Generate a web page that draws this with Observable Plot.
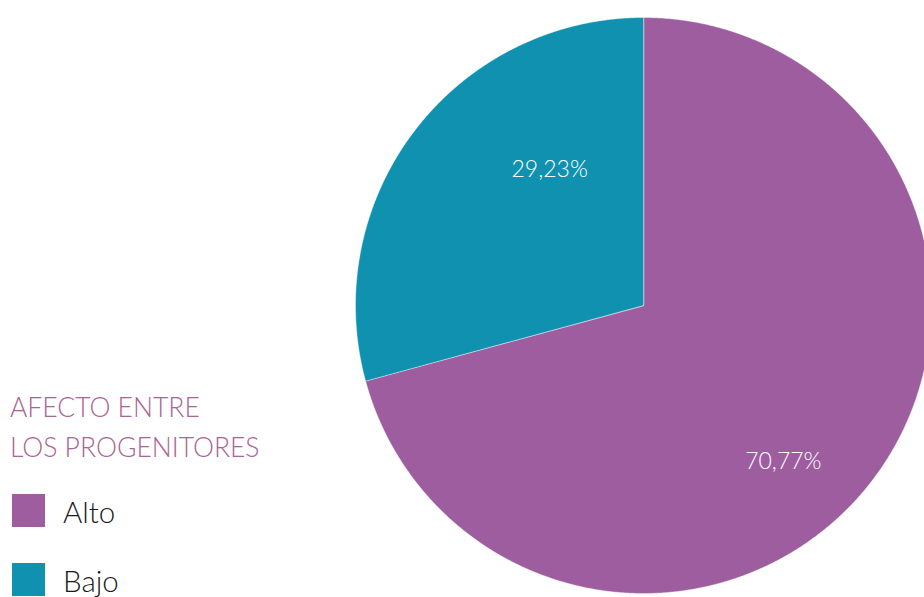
<!DOCTYPE html>
<html>
<head>
<meta charset="utf-8">
<script src="https://cdn.jsdelivr.net/npm/d3@7"></script>
<script src="https://cdn.jsdelivr.net/npm/@observablehq/plot@0.6"></script>
<style>
  html, body { margin: 0; padding: 0; background: #fff; overflow: hidden; }
  #wrap { position: relative; width: 924px; height: 597px; overflow: hidden; }
  #chart { position: absolute; left: 0; top: 0; width: 935px; }
  #chart svg { max-width: none !important; }
  #legend { position: absolute; left: 0; top: 0; }
</style>
</head>
<body>
<div id="wrap">
  <div id="chart"></div>
  <svg id="legend" width="340" height="597"></svg>
</div>
<script>
const categories = ["Alto", "Bajo"];
const values = [70.77, 29.23];
const labels = ["70,77%", "29,23%"];
const colors = ["#9d5d9f", "#1191b0"];
const titleLines = ["AFECTO ENTRE", "LOS PROGENITORES"];

const FONT = "Lato, 'Open Sans', sans-serif";

// pie geometry in unit coordinates (y downward), computed from values
const arcs = d3.pie().sort(null).value(d => d)(values);
const pt = (a, r = 1) => [r * Math.sin(a), -r * Math.cos(a)];
const features = arcs.map((a, i) => {
  const ring = [[0, 0]];
  const n = Math.max(2, Math.ceil((a.endAngle - a.startAngle) / (Math.PI / 720)));
  for (let k = 0; k <= n; k++) ring.push(pt(a.startAngle + (a.endAngle - a.startAngle) * k / n));
  ring.push([0, 0]);
  return {type: "Feature", properties: {category: categories[i]}, geometry: {type: "Polygon", coordinates: [ring]}};
});
const circle = {type: "Polygon", coordinates: [d3.range(0, 361, 1).map(d => pt(d * Math.PI / 180))]};

const labelRadius = 0.65, labelTurn = 14 * Math.PI / 180;
const labelData = arcs.map((a, i) => {
  const [x, y] = pt((a.startAngle + a.endAngle) / 2 + labelTurn, labelRadius);
  return {x, y, label: labels[i]};
});

const chart = Plot.plot({
  width: 935,
  height: 597,
  marginLeft: 355,
  marginRight: 4,
  marginTop: 17,
  marginBottom: 4,
  style: {maxWidth: "none"},
  projection: {type: "identity", domain: circle},
  color: {domain: categories, range: colors},
  marks: [
    Plot.geo(features, {fill: d => d.properties.category, stroke: "#ffffff", strokeWidth: 0.6, strokeOpacity: 0.7}),
    Plot.text(labelData, {x: "x", y: "y", text: "label", dx: 23, dy: 10, fill: "white", fontSize: 23, fontWeight: 300, fontFamily: FONT})
  ]
});
document.getElementById("chart").appendChild(chart);

// legend
const lg = d3.select("#legend");
lg.selectAll("text.title").data(titleLines).join("text")
  .attr("class", "title")
  .attr("x", 10).attr("y", (d, i) => 417 + i * 40)
  .attr("fill", "#ab6593")
  .attr("font-family", FONT).attr("font-weight", 300).attr("font-size", 26.5)
  .text(d => d);
const items = lg.selectAll("g.item").data(categories).join("g")
  .attr("class", "item")
  .attr("transform", (d, i) => `translate(12, ${494 + i * 69})`);
items.append("rect").attr("width", 33).attr("height", 33).attr("fill", (d, i) => colors[i]);
items.append("text").attr("x", 51).attr("y", 29)
  .attr("fill", "#1a1a1a")
  .attr("font-family", FONT).attr("font-weight", 300).attr("font-size", 29.5)
  .text(d => d);
</script>
</body>
</html>
